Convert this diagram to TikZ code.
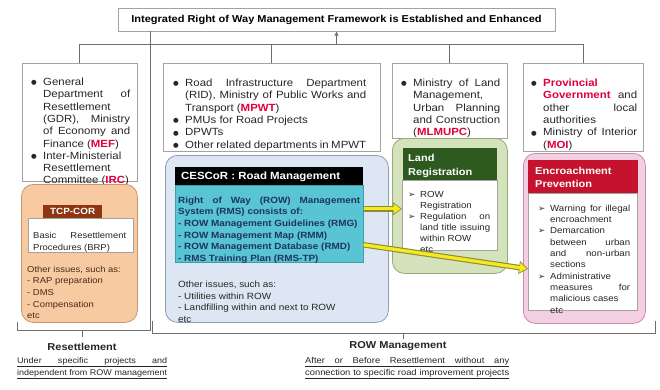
\documentclass[tikz,border=0pt]{standalone}
\usepackage{fontspec}
\setmainfont{Liberation Sans}[FakeStretch=1.1]
\newfontfamily\symfont{DejaVu Sans}
\usetikzlibrary{arrows.meta}
\definecolor{linegray}{HTML}{6E6E6E}
\definecolor{boxgray}{HTML}{A3A3A3}
\definecolor{txt}{HTML}{262626}
\definecolor{hired}{HTML}{E2003C}
\definecolor{orfill}{HTML}{F8CAA2}
\definecolor{orline}{HTML}{C99570}
\definecolor{tcphead}{HTML}{8C3612}
\definecolor{ortext}{HTML}{4A2A18}
\definecolor{blfill}{HTML}{DCE7F3}
\definecolor{blline}{HTML}{8D9EB0}
\definecolor{cyanfill}{HTML}{58C4D4}
\definecolor{cyanline}{HTML}{3C9DAC}
\definecolor{navy}{HTML}{1E3461}
\definecolor{grfill}{HTML}{D5E3BD}
\definecolor{grline}{HTML}{93AA7C}
\definecolor{grhead}{HTML}{2E5A1F}
\definecolor{pkfill}{HTML}{F4CFE1}
\definecolor{pkline}{HTML}{C58DAA}
\definecolor{pkhead}{HTML}{C5122E}
\definecolor{yelfill}{HTML}{F4EA1C}
\definecolor{yelline}{HTML}{8E8A3C}
\tolerance=10000 \hbadness=10000 \hyphenpenalty=10000 \exhyphenpenalty=10000
\newcommand\hl[1]{\textcolor{hired}{\textbf{#1}}}
\newcommand\bitem{\par\noindent\hangindent=12pt\hangafter=1\makebox[12pt][l]{\raisebox{0.6pt}{\symfont\fontsize{6.5}{6.5}\selectfont ●}}}
\newcommand\aitem{\par\noindent\hangindent=12pt\hangafter=1\makebox[12pt][l]{\symfont\fontsize{8.5}{8.5}\selectfont ➢}}
\newcommand\contitem{\par\noindent\hangindent=12pt\hangafter=0 }
\newcommand\fbul{\fontsize{10.4}{12.3}\selectfont\color{txt}\parskip=0pt }
\newcommand\fsm{\fontsize{8.8}{11.3}\selectfont\color{txt}\parskip=0pt }
\begin{document}
\begin{tikzpicture}[x=1pt,y=-1pt,
  conn/.style={draw=linegray, line width=0.8pt},
  bbox/.style={draw=boxgray, fill=white, line width=0.7pt, inner sep=0, anchor=north west},
  rbox/.style={line width=0.8pt, rounded corners=12pt, inner sep=0, anchor=north west},
  hdr/.style={inner sep=0, anchor=north west, text=white, font=\fontsize{10}{13}\selectfont\bfseries},
  tx/.style={anchor=base west, inner sep=0},
  yarrowO/.style={line width=5.5pt, draw=yelline, -{Triangle[length=9pt,width=12.5pt]}},
  yarrowI/.style={line width=3.3pt, draw=yelfill, shorten >=1.3pt, -{Triangle[length=7pt,width=9.5pt]}}]
\useasboundingbox (0,0) rectangle (660,389);
\fill[white] (0,0) rectangle (660,389);

% title
\node[draw=boxgray, fill=white, line width=0.7pt, minimum width=437pt, minimum height=23pt, inner sep=0,
  font=\fontsize{10}{12}\selectfont\bfseries] (title) at (336.5,19.5)
  {Integrated Right of Way Management Framework is Established and Enhanced};

% bullet boxes
\node[bbox, minimum width=115pt, minimum height=118pt] (gdr) at (22,63) {};
\node[bbox, minimum width=217pt, minimum height=88pt] (rid) at (163,63) {};
\node[bbox, minimum width=115pt, minimum height=75pt] (mlm) at (392,63) {};
\node[bbox, minimum width=120pt, minimum height=88pt] (prov) at (523,63) {};

\node[tx] (gdrt) at (31,78) {\parbox[t]{99pt}{\fbul\bitem General\linebreak Department of\linebreak Resettlement\linebreak (GDR), Ministry\linebreak of Economy and\linebreak Finance (\hl{MEF})\bitem Inter-Ministerial\linebreak Resettlement\linebreak Committee (\hl{IRC})}};
\node[tx] (ridt) at (173,79) {\parbox[t]{193pt}{\fbul\bitem Road Infrastructure Department\linebreak (RID), Ministry of Public Works and\linebreak Transport (\hl{MPWT})\bitem PMUs for Road Projects\bitem DPWTs\bitem Other related departments in MPWT}};
\node[tx] (mlmt) at (401,79) {\parbox[t]{99pt}{\fbul\bitem Ministry of Land\linebreak Management,\linebreak Urban Planning\linebreak and Construction\linebreak (\hl{MLMUPC})}};
\node[tx] (provt) at (531,79) {\parbox[t]{106pt}{\fbul\bitem \hl{Provincial}\linebreak \hl{Government} and\linebreak other local\linebreak authorities\bitem Ministry of Interior\linebreak (\hl{MOI})}};

% connectors
\coordinate (hub) at ([yshift=-13pt]title.south);
\draw[conn] (gdr.north) -- (gdr.north |- hub) -- (prov.north |- hub) -- (prov.north);
\draw[conn] (rid.north) -- (rid.north |- hub);
\draw[conn] (mlm.north) -- (mlm.north |- hub);
\draw[conn, -{Stealth[length=5pt,width=4.5pt]}] (hub) -- (title.south);

% orange TCP-COR
\node[rbox, fill=orfill, draw=orline, minimum width=116pt, minimum height=138pt] (orbox) at (21,184) {};
\node[hdr, fill=tcphead, minimum width=59pt, minimum height=13pt, font=\fontsize{9}{11}\selectfont\bfseries] (tcp) at (43,205) {TCP-COR};
\node[bbox, minimum width=105pt, minimum height=34pt] (brp) at (28,218) {};
\node[tx] (brpt) at (33,232) {\parbox[t]{93pt}{\fontsize{8.6}{12}\selectfont\color{txt}Basic Resettlement\linebreak Procedures (BRP)}};
\node[tx] (ort) at (27,266) {\parbox[t]{108pt}{\fontsize{8.6}{11.6}\selectfont\color{ortext}Other issues, such as:\\- RAP preparation\\- DMS\\- Compensation\\etc}};

% blue CESCoR
\node[rbox, fill=blfill, draw=blline, minimum width=223pt, minimum height=167pt] (blbox) at (165,155) {};
\node[hdr, fill=black, minimum width=188pt, minimum height=18pt] (cesh) at (175,167) {};
\node[tx, text=white, font=\fontsize{10.4}{12}\selectfont\bfseries] (cest) at (181,179.5) {CESCoR : Road Management};
\node[inner sep=0, anchor=north west, fill=cyanfill, draw=cyanline, line width=0.6pt, minimum width=188pt, minimum height=77pt] (cyan) at (175,185) {};
\node[tx] (cyant) at (178,196.5) {\parbox[t]{182pt}{\fontsize{9}{11.7}\selectfont\bfseries\color{navy}Right of Way (ROW) Management\linebreak System (RMS) consists of:\newline - ROW Management Guidelines (RMG)\newline - ROW Management Map (RMM)\newline - ROW Management Database (RMD)\newline - RMS Training Plan (RMS-TP)}};
\node[tx] (blt) at (178,281) {\parbox[t]{185pt}{\fontsize{9}{11.6}\selectfont\color{txt}Other issues, such as:\\- Utilities within ROW\\- Landfilling within and next to ROW\\etc}};

% green Land Registration
\node[rbox, fill=grfill, draw=grline, minimum width=115pt, minimum height=135pt] (grbox) at (392,138) {};
\node[hdr, fill=grhead, minimum width=94pt, minimum height=32pt] (grh) at (403,148) {};
\node[tx, text=white, font=\fontsize{10}{13.5}\selectfont\bfseries] (grht) at (408,161.5) {\parbox[t]{88pt}{Land\\Registration}};
\node[bbox, minimum width=95pt, minimum height=70pt] (landc) at (402,180) {};
\node[tx] (landt) at (408,191) {\parbox[t]{82pt}{\fontsize{8.8}{11.1}\selectfont\color{txt}\parskip=0pt \aitem ROW\linebreak Registration\aitem Regulation on\linebreak land title issuing\linebreak within ROW\contitem etc}};

% pink Encroachment Prevention
\node[rbox, fill=pkfill, draw=pkline, minimum width=122pt, minimum height=170pt] (pkbox) at (523,153) {};
\node[hdr, fill=pkhead, minimum width=110pt, minimum height=33pt] (pkh) at (528,160) {};
\node[tx, text=white, font=\fontsize{10}{13}\selectfont\bfseries] (pkht) at (535,174.5) {\parbox[t]{100pt}{Encroachment\\Prevention}};
\node[bbox, minimum width=109pt, minimum height=117pt] (pkc) at (528,193) {};
\node[tx] (pkt) at (538,205) {\parbox[t]{92pt}{\fsm\aitem Warning for illegal\linebreak encroachment\aitem Demarcation\linebreak between urban\linebreak and non-urban\linebreak sections\aitem Administrative\linebreak measures for\linebreak malicious cases\newline etc}};

% yellow arrows
\draw[yarrowO] ([yshift=15pt]cyan.east) -- ([yshift=15pt]cyan.east -| landc.west);
\draw[yarrowI] ([yshift=15pt]cyan.east) -- ([yshift=15pt]cyan.east -| landc.west);
\draw[yarrowO] ([yshift=-21pt]cyan.east) -- ([yshift=-17pt]pkc.west);
\draw[yarrowI] ([yshift=-21pt]cyan.east) -- ([yshift=-17pt]pkc.west);

% brackets
\coordinate (rsA) at (17,322);
\coordinate (rsB) at (17,330);
\coordinate (rsC) at (150,330);
\coordinate (rsM) at (82,330);
\coordinate (rsMd) at (82,337);
\draw[conn] (rsA) -- (rsB) -- (rsC) -- (rsC |- title.south);
\draw[conn] (rsM) -- (rsMd);
\coordinate (rwA) at (152,321);
\coordinate (rwB) at (152,333);
\coordinate (rwC) at (655,333);
\coordinate (rwD) at (655,321);
\coordinate (rwM) at (403,333);
\coordinate (rwMd) at (403,339);
\draw[conn] (rwA) -- (rwB) -- (rwC) -- (rwD);
\draw[conn] (rwM) -- (rwMd);

% bottom labels
\node[inner sep=0, font=\fontsize{10}{12}\selectfont\bfseries, text=txt] (reslab) at (82,347) {Resettlement};
\node[tx, font=\fontsize{8.2}{10}\selectfont, text=txt] (resn1) at (17,363) {\underline{\makebox[150pt][s]{Under specific projects and}}};
\node[tx, font=\fontsize{8.2}{10}\selectfont, text=txt] (resn2) at (17,375) {\underline{\makebox[150pt][s]{independent from ROW management}}};
\node[inner sep=0, font=\fontsize{10}{12}\selectfont\bfseries, text=txt] (rowlab) at (398,346) {ROW Management};
\node[tx, font=\fontsize{8.5}{10}\selectfont, text=txt] (rown1) at (305,363) {\underline{\makebox[204pt][s]{After or Before Resettlement without any}}};
\node[tx, font=\fontsize{8.5}{10}\selectfont, text=txt] (rown2) at (305,375) {\underline{\makebox[204pt][s]{connection to specific road improvement projects}}};
\end{tikzpicture}
\end{document}
